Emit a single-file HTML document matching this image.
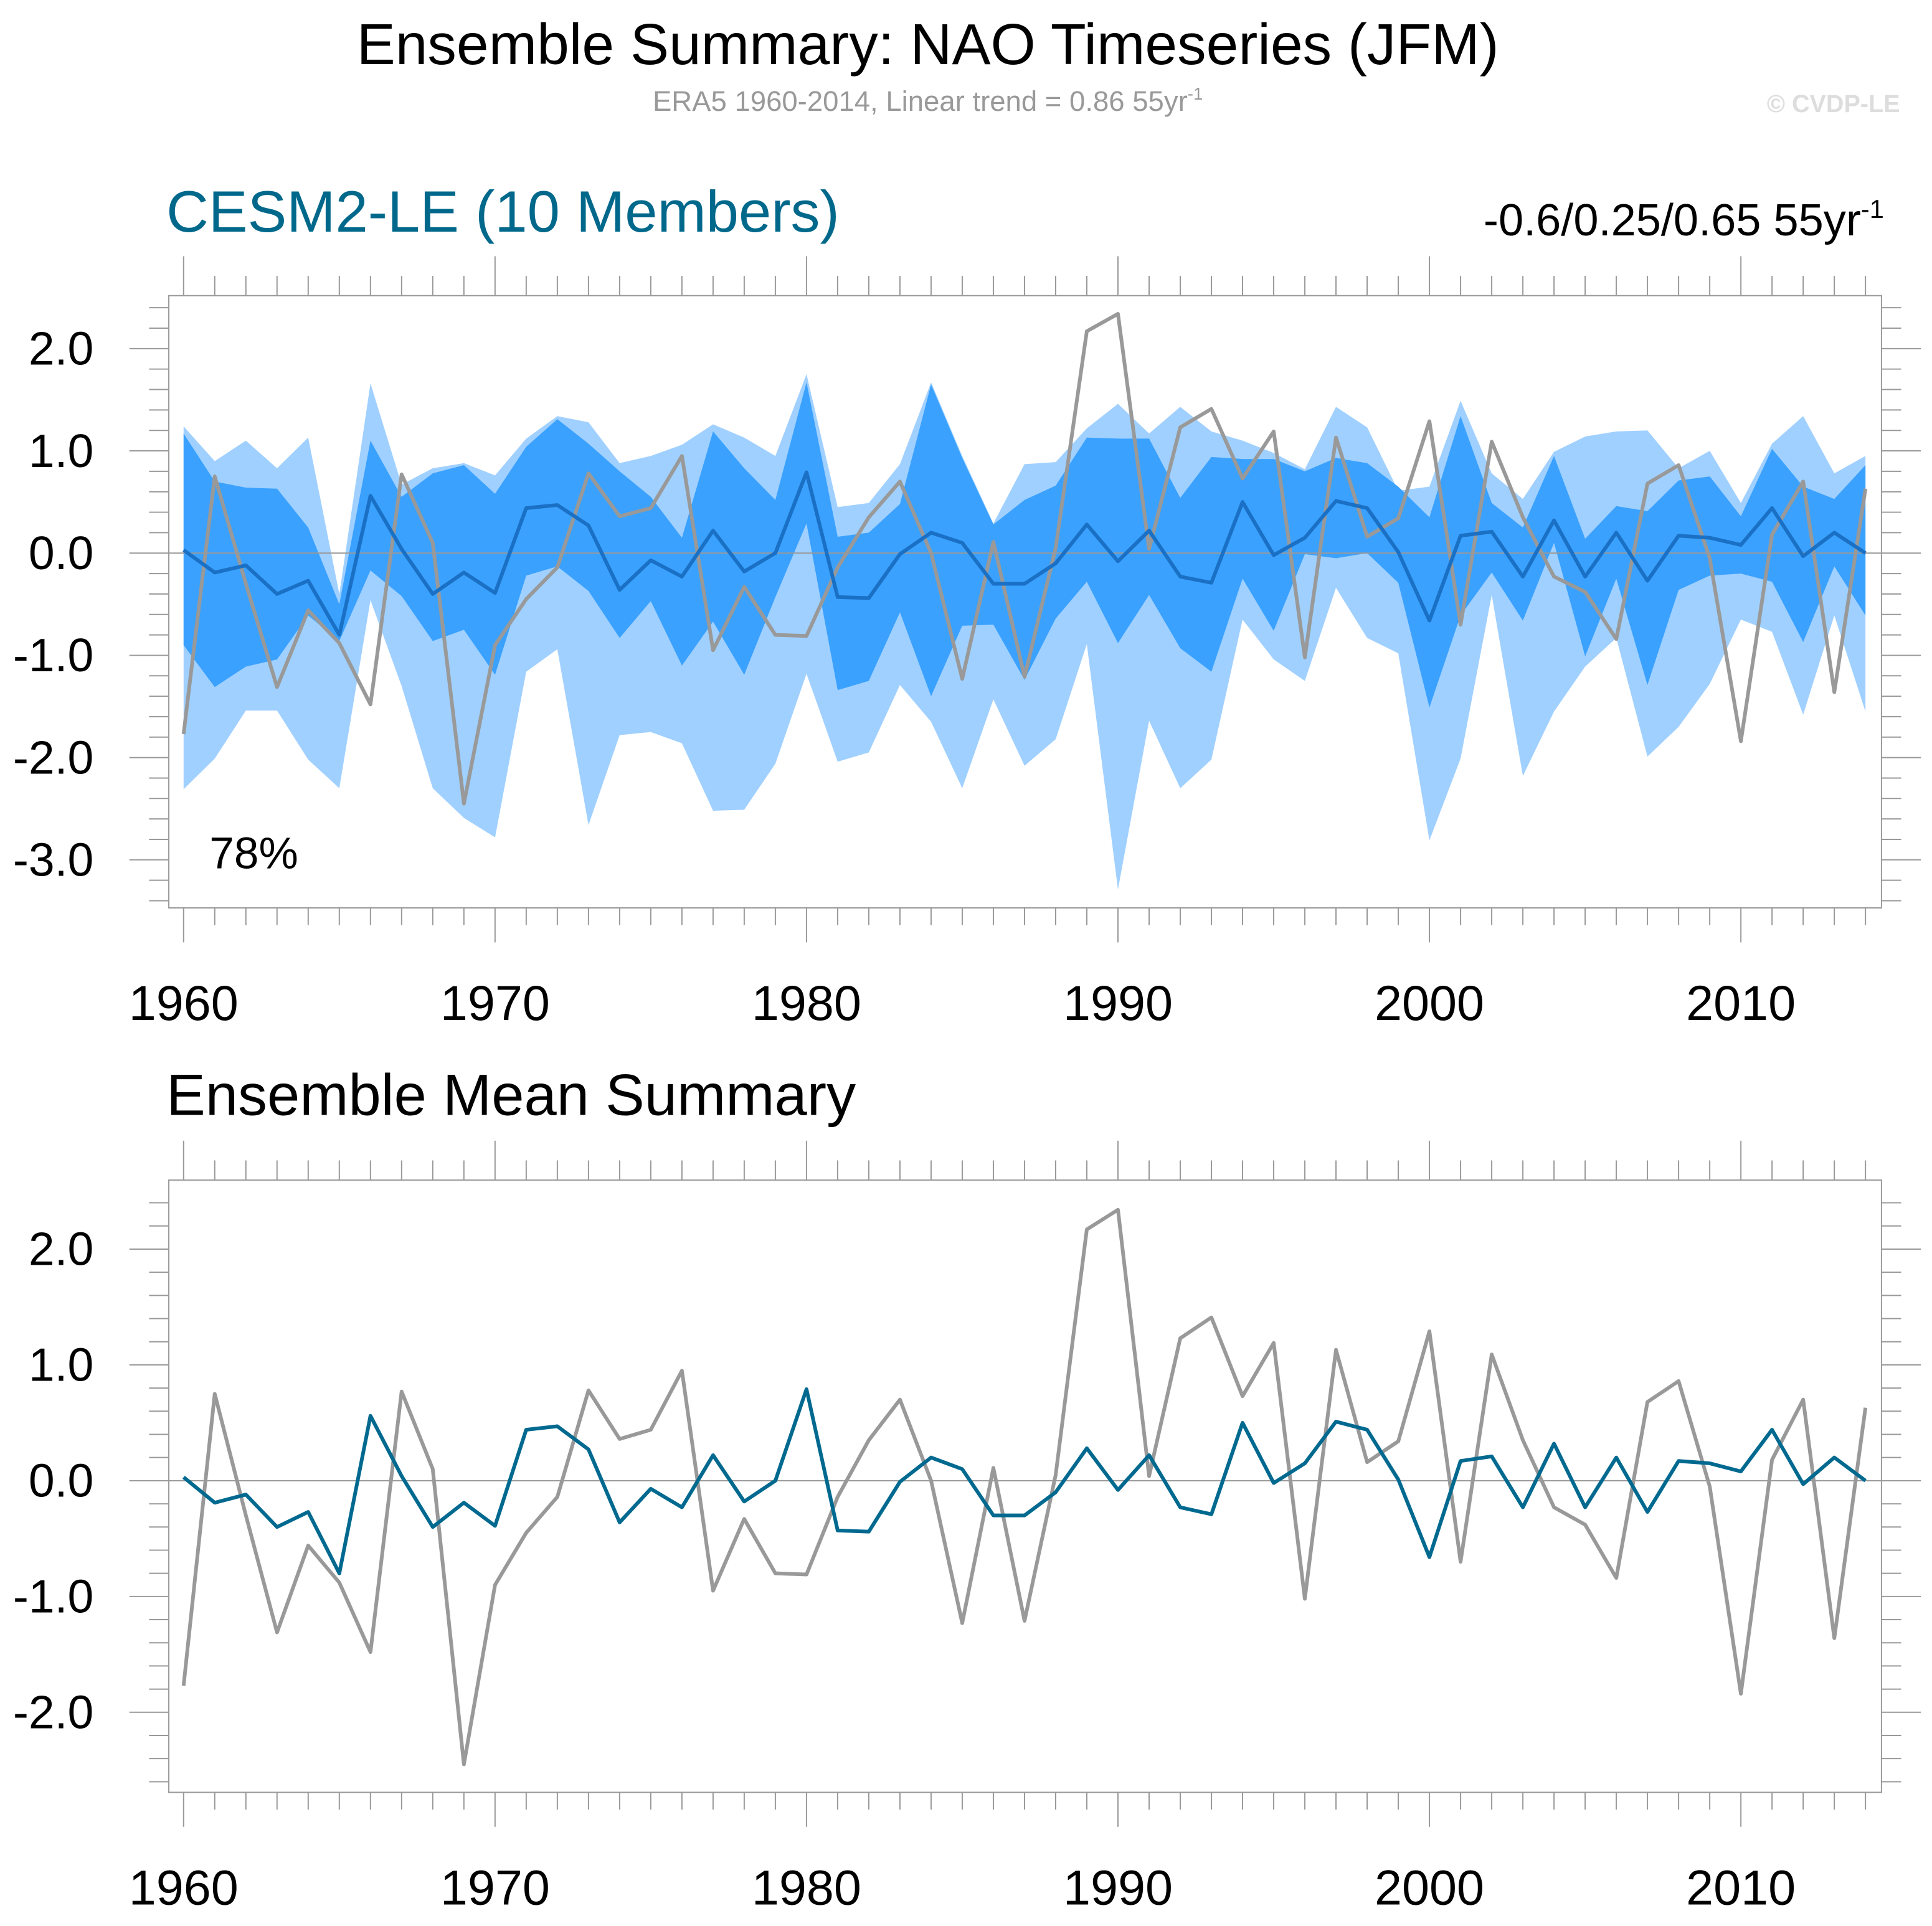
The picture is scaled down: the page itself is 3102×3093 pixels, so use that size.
<!DOCTYPE html>
<html><head><meta charset="utf-8"><style>
html,body{margin:0;padding:0;background:#fff}
svg{display:block}
text{font-family:"Liberation Sans",sans-serif}
</style></head><body>
<svg id="c" width="3102" height="3093" viewBox="0 0 1568 1563.5" preserveAspectRatio="none" xmlns="http://www.w3.org/2000/svg">
<text x="753" y="52" font-size="47" text-anchor="middle" fill="#000">Ensemble Summary: NAO Timeseries (JFM)</text>
<text x="753" y="90" font-size="23" text-anchor="middle" fill="#999">ERA5 1960-2014, Linear trend = 0.86 55yr<tspan dy="-9" font-size="14">-1</tspan></text>
<text x="1542" y="91" font-size="20" text-anchor="end" fill="#ddd" font-weight="bold">© CVDP-LE</text>
<text x="135" y="188" font-size="47.5" fill="#00688b">CESM2-LE (10 Members)</text>
<text x="1529" y="191" font-size="36.5" text-anchor="end" fill="#000">-0.6/0.25/0.65 55yr<tspan dy="-14" font-size="21">-1</tspan></text>
<text x="135" y="905" font-size="47.5" fill="#000">Ensemble Mean Summary</text>
<text x="170" y="705" font-size="36" fill="#000">78%</text>
<g id="g1"></g><g id="g2"></g>
</svg>
<script>
const years=[];for(let y=1960;y<=2014;y++)years.push(y);
const era5=[-1.77,0.75,-0.3,-1.31,-0.56,-0.88,-1.48,0.77,0.1,-2.45,-0.9,-0.45,-0.14,0.78,0.36,0.44,0.95,-0.95,-0.33,-0.8,-0.81,-0.14,0.35,0.7,0.0,-1.23,0.11,-1.21,0.05,2.17,2.34,0.04,1.23,1.41,0.73,1.19,-1.02,1.13,0.16,0.34,1.29,-0.7,1.09,0.35,-0.23,-0.38,-0.84,0.68,0.86,-0.05,-1.84,0.18,0.7,-1.36,0.63];
const ensMean=[0.03,-0.19,-0.12,-0.4,-0.27,-0.8,0.56,0.04,-0.4,-0.19,-0.39,0.44,0.47,0.27,-0.36,-0.07,-0.23,0.22,-0.18,0.0,0.79,-0.43,-0.44,-0.01,0.2,0.1,-0.3,-0.3,-0.1,0.28,-0.08,0.22,-0.23,-0.29,0.5,-0.02,0.15,0.51,0.44,0.01,-0.66,0.17,0.21,-0.23,0.32,-0.23,0.2,-0.27,0.17,0.15,0.08,0.44,-0.03,0.2,0.0];
const lightMax=[1.24,0.9,1.1,0.83,1.13,-0.4,1.66,0.67,0.83,0.88,0.76,1.12,1.34,1.28,0.88,0.95,1.06,1.26,1.13,0.95,1.75,0.45,0.49,0.87,1.67,0.95,0.29,0.87,0.89,1.22,1.46,1.17,1.43,1.19,1.1,0.98,0.82,1.43,1.23,0.61,0.65,1.49,0.78,0.53,0.99,1.14,1.19,1.2,0.83,1.0,0.49,1.07,1.34,0.78,0.95];
const darkMax=[1.17,0.7,0.64,0.63,0.25,-0.5,1.1,0.55,0.78,0.86,0.58,1.04,1.31,1.07,0.8,0.55,0.15,1.19,0.83,0.52,1.67,0.16,0.2,0.48,1.65,0.93,0.28,0.52,0.66,1.13,1.12,1.12,0.54,0.94,0.92,0.92,0.8,0.93,0.88,0.65,0.35,1.34,0.49,0.25,0.95,0.14,0.46,0.41,0.71,0.75,0.36,1.02,0.65,0.53,0.86];
const darkMin=[-0.9,-1.31,-1.11,-1.04,-0.61,-0.86,-0.17,-0.42,-0.86,-0.75,-1.19,-0.22,-0.13,-0.37,-0.83,-0.47,-1.1,-0.67,-1.19,-0.43,0.29,-1.34,-1.25,-0.58,-1.4,-0.71,-0.7,-1.24,-0.64,-0.28,-0.88,-0.41,-0.93,-1.16,-0.25,-0.76,-0.01,-0.05,0.0,-0.29,-1.51,-0.61,-0.19,-0.66,0.1,-1.01,-0.25,-1.29,-0.36,-0.22,-0.2,-0.28,-0.87,-0.13,-0.61];
const lightMin=[-2.31,-2.01,-1.54,-1.54,-2.02,-2.3,-0.46,-1.3,-2.3,-2.59,-2.78,-1.16,-0.94,-2.66,-1.78,-1.75,-1.86,-2.52,-2.51,-2.06,-1.18,-2.04,-1.95,-1.29,-1.65,-2.3,-1.43,-2.08,-1.82,-0.89,-3.29,-1.64,-2.3,-2.02,-0.65,-1.04,-1.25,-0.34,-0.83,-0.98,-2.81,-2.01,-0.41,-2.18,-1.55,-1.11,-0.83,-1.99,-1.7,-1.28,-0.65,-0.77,-1.58,-0.61,-1.55];
const yTicks1=[2,1,0,-1,-2,-3];
const yTicks2=[2,1,0,-1,-2];
const xTicks=[1960,1970,1980,1990,2000,2010];
const NS="http://www.w3.org/2000/svg";
function mk(p,tag,a){const e=document.createElementNS(NS,tag);for(const k in a)e.setAttribute(k,a[k]);p.appendChild(e);return e;}
function panel(g,top,bot,y0,ppu,ymin,ymax,ticks,bands){
  const L=137,R=1527;
  const X=yr=>149+(yr-1960)*(1514-149)/54;
  const Y=v=>y0-v*ppu;
  const poly=(hi,lo,col,name)=>{let d='M'+years.map((y,i)=>X(y)+','+Y(hi[i])).join('L');
    for(let i=years.length-1;i>=0;i--)d+='L'+X(years[i])+','+Y(lo[i]);
    const p=mk(g,'path',{d:d+'Z',fill:col});
    
    };
  if(bands){poly(lightMax,lightMin,'#a0d0ff','range-band');poly(darkMax,darkMin,'#3aa1ff','percentile-band');}
  const z=mk(g,'line',{x1:L,x2:R,y1:Y(0),y2:Y(0),stroke:'#999','stroke-width':1});
  
  
  const line=(arr,col,w,name)=>{const p=mk(g,'polyline',{points:years.map((y,i)=>X(y)+','+Y(arr[i])).join(' '),fill:'none',stroke:col,'stroke-width':w,'stroke-linejoin':'round'});
    
    };
  if(bands){line(era5,'#999',3,'era5-line');line(ensMean,'#1a70c4',3,'ensemble-mean-line');}
  else{line(era5,'#999',3,'era5-line');line(ensMean,'#00698f',3,'ensemble-mean-line');}
  const box=mk(g,'rect',{x:L,y:top,width:R-L,height:bot-top,fill:'none',stroke:'#999','stroke-width':1});
  
  
  const tk=(x1,y1,x2,y2)=>mk(g,'line',{x1,y1,x2,y2,stroke:'#999','stroke-width':1});
  years.forEach(yr=>{const maj=yr%10==0,x=X(yr);tk(x,top,x,top-(maj?32:16));tk(x,bot,x,bot+(maj?28:14));});
  for(let v=Math.ceil(ymin*5)/5;v<=ymax+1e-9;v+=0.2){const y=Y(v),maj=Math.abs(v-Math.round(v))<1e-6;
    tk(L,y,L-(maj?32:16),y);tk(R,y,R+(maj?32:16),y);}
  ticks.forEach(v=>{const t=mk(g,'text',{x:76,y:Y(v)+13,'font-size':38,'text-anchor':'end'});t.textContent=v.toFixed(1);
    
    });
  xTicks.forEach(yr=>{const t=mk(g,'text',{x:X(yr),y:bot+91,'font-size':40,'text-anchor':'middle'});t.textContent=yr;
    
    });
}
panel(document.getElementById('g1'),240,737,449,83,-3.46,2.5,yTicks1,true);
panel(document.getElementById('g2'),958,1455,1202,94,-2.68,2.58,yTicks2,false);
</script>
</body></html>
